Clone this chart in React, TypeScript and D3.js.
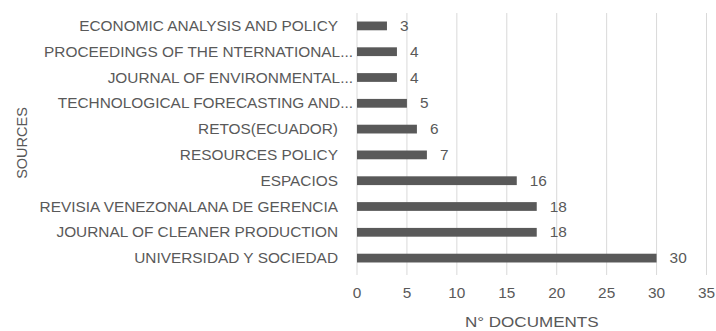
import React from "react";
import * as d3 from "d3";

const sources = [
  "ECONOMIC ANALYSIS AND POLICY",
  "PROCEEDINGS OF THE NTERNATIONAL...",
  "JOURNAL OF ENVIRONMENTAL...",
  "TECHNOLOGICAL FORECASTING AND...",
  "RETOS(ECUADOR)",
  "RESOURCES POLICY",
  "ESPACIOS",
  "REVISIA VENEZONALANA DE GERENCIA",
  "JOURNAL OF CLEANER PRODUCTION",
  "UNIVERSIDAD Y SOCIEDAD",
];
const documents = [3, 4, 4, 5, 6, 7, 16, 18, 18, 30];
const xTicks = [0, 5, 10, 15, 20, 25, 30, 35];

const W = 716;
const H = 331;
const left = 357;
const right = 706.5;
const top = 13;
const bottom = 271;
const font = "'Liberation Sans', Arial, sans-serif";
const textColor = "#595959";
const sx = 1.1;

function T({ x, y, anchor, size, children }: { x: number; y: number; anchor: string; size: number; children: any }) {
  return (
    <text
      transform={`translate(${x},${y}) scale(${sx},1)`}
      textAnchor={anchor}
      fontFamily={font}
      fontSize={size}
      fill={textColor}
    >
      {children}
    </text>
  );
}

export default function App() {
  const x = d3.scaleLinear().domain([0, 35]).range([left, right]);
  const y = d3.scaleBand<string>().domain(sources).range([top, bottom]).paddingInner(0.66).paddingOuter(0.33);
  return (
    <svg width={W} height={H} style={{ position: "absolute", left: 0, top: 0, background: "#fff" }}>
      {xTicks.map((t) => (
        <g key={t}>
          <line x1={x(t)} x2={x(t)} y1={top} y2={bottom + 4} stroke="#d9d9d9" strokeWidth={1} />
          <T x={x(t)} y={298} anchor="middle" size={14}>
            {t}
          </T>
        </g>
      ))}
      {sources.map((s, i) => {
        const yc = (y(s) as number) + y.bandwidth() / 2;
        const truncated = s.endsWith("...");
        return (
          <g key={s}>
            <rect x={x(0)} y={y(s)} width={x(documents[i]) - x(0)} height={y.bandwidth()} fill="#595959" />
            <T x={x(documents[i]) + 13} y={yc + 5} anchor="start" size={14}>
              {documents[i]}
            </T>
            <T x={truncated ? 353 : 338} y={yc + 5} anchor="end" size={14}>
              {s}
            </T>
          </g>
        );
      })}
      <T x={(left + right) / 2} y={327} anchor="middle" size={15.5}>
        N° DOCUMENTS
      </T>
      <text
        transform={`translate(27,${(top + bottom) / 2 + 1}) rotate(-90)`}
        textAnchor="middle"
        fontFamily={font}
        fontSize={14.5}
        fill={textColor}
      >
        SOURCES
      </text>
    </svg>
  );
}
